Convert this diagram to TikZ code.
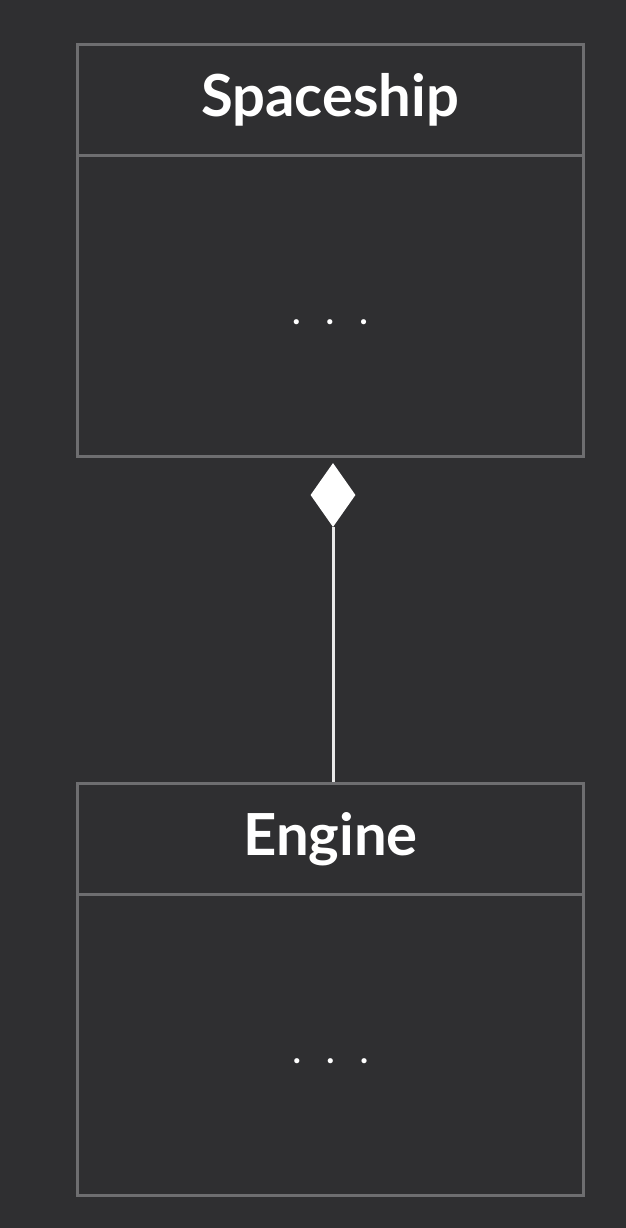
\documentclass[tikz,border=0pt]{standalone}
\usepackage{fontspec}
\setmainfont{Lato}
\usetikzlibrary{positioning}
\usetikzlibrary{shapes.geometric}
\definecolor{bg}{RGB}{47,47,49}
\definecolor{frame}{RGB}{110,110,112}
\definecolor{link}{RGB}{232,232,232}
\tikzset{title/.style = {draw = frame, line width = 3pt, minimum width = 506pt,
                         minimum height = 111pt, inner sep = 0pt, text = white,
                         font = \fontsize{58}{68}\selectfont\bfseries},
         body/.style = {draw = frame, line width = 3pt, minimum width = 506pt,
                        minimum height = 301pt, inner sep = 0pt, text = white,
                        text height = 38pt,
                        font = \fontsize{34}{40}\selectfont\bfseries},
         owner/.style = {diamond, fill = white, inner sep = 0pt,
                         minimum width = 45pt, minimum height = 64pt}}

\begin{document}
\begin{tikzpicture}[x = 1pt, y = -1pt]
    \fill [bg] (0, 0) rectangle (626, 1228);
    \useasboundingbox (0, 0) rectangle (626, 1228);

    \node [title] (ship) at (330, 100) {Spaceship};
    \node [body, below = -3pt of ship] (shipbody) {.\hspace{0.75em}.\hspace{0.75em}.};

    \node [title] (engine) at (330.5, 839) {Engine};
    \node [body, below = -3pt of engine] (enginebody) {.\hspace{0.75em}.\hspace{0.75em}.};

    \node [owner] (own) at (333, 495) {};
    \draw [link, line width = 3pt] (own.south) -- (engine.north -| own.south);
\end{tikzpicture}
\end{document}
